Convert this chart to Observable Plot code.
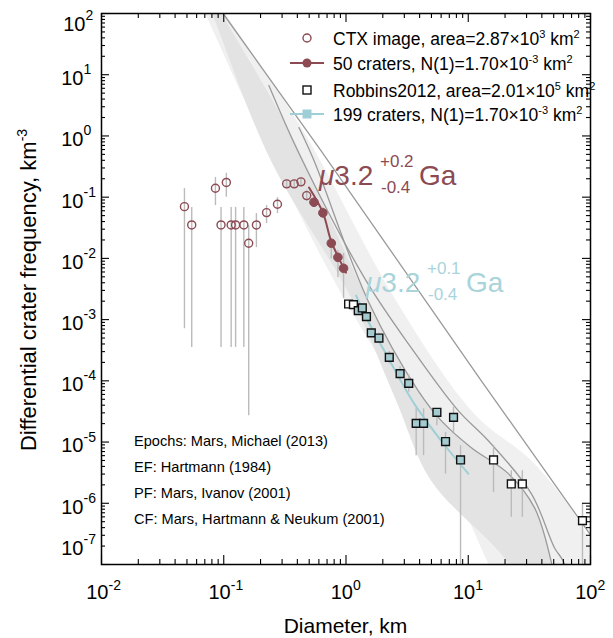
<!DOCTYPE html>
<html><head><meta charset="utf-8">
<script src="https://cdn.jsdelivr.net/npm/d3@7"></script>
<script src="https://cdn.jsdelivr.net/npm/@observablehq/plot@0.6"></script>
<style>
body{margin:0;background:#fff;}
#wrap{position:relative;width:613px;height:638px;overflow:hidden;background:#fff}
#wrap svg{position:absolute;left:0;top:0}
</style></head><body><div id="wrap"></div>
<script>
// ---------------- data ----------------
// CTX image crater counts (open circles)
const ctxD  = [0.0477, 0.0547, 0.0855, 0.095, 0.105, 0.115, 0.125, 0.146, 0.160, 0.185, 0.224, 0.275, 0.327, 0.377, 0.428, 0.477];
const ctxN  = [0.070, 0.0352, 0.140, 0.0352, 0.174, 0.0352, 0.0352, 0.0352, 0.0177, 0.0352, 0.056, 0.0766, 0.165, 0.165, 0.178, 0.106];
const ctxLo = [7.1e-4, 3.5e-4, 0.073, 3.5e-4, 0.100, 3.5e-4, 3.5e-4, 3.5e-4, 2.7e-5, 0.015, 0.037, 0.054, 0.14, 0.14, 0.15, 0.085];
const ctxHi = [0.138, 0.068, 0.21, 0.068, 0.245, 0.068, 0.068, 0.068, 0.034, 0.054, 0.073, 0.098, 0.19, 0.19, 0.21, 0.13];
// CTX points used in the fit (filled circles, 50 craters)
const fitD  = [0.547, 0.647, 0.758, 0.859, 0.955];
const fitN  = [0.0826, 0.0554, 0.0177, 0.0104, 0.0069];
const fitLo = [0.068, 0.045, 0.0099, 0.00485, 0.0022];
const fitHi = [0.098, 0.067, 0.021, 0.0134, 0.012];
// Robbins2012 (squares; filled = used in fit, 199 craters)
const robD  = [1.05, 1.15, 1.26, 1.36, 1.47, 1.61, 1.86, 2.26, 2.77, 3.26, 3.75, 4.31, 5.54, 6.52, 7.58, 8.65, 16.1, 22.5, 27.7, 86];
const robN  = [1.8e-3, 1.76e-3, 1.4e-3, 1.55e-3, 1.12e-3, 6.07e-4, 5.0e-4, 2.42e-4, 1.31e-4, 9.1e-5, 2.02e-5, 2.02e-5, 3.06e-5, 1.02e-5, 2.53e-5, 5.1e-6, 5.1e-6, 2.07e-6, 2.07e-6, 5.2e-7];
const robLo = [1.6e-3, 1.55e-3, 1.23e-3, 1.36e-3, 9.7e-4, 5.1e-4, 4.1e-4, 1.9e-4, 9.8e-5, 6.5e-5, 6.0e-6, 6.0e-6, 1.85e-5, 3.0e-6, 1.44e-5, 1e-8, 1.5e-6, 5.9e-7, 5.9e-7, 1e-8];
const robHi = [2.0e-3, 1.97e-3, 1.58e-3, 1.75e-3, 1.29e-3, 7.2e-4, 6.0e-4, 3.0e-4, 1.7e-4, 1.25e-4, 3.5e-5, 3.5e-5, 3.5e-5, 1.44e-5, 3.7e-5, 8.7e-6, 8.7e-6, 3.4e-6, 3.4e-6, 9.7e-7];
const robFit = [false, false, true, true, true, true, true, true, true, true, true, true, true, true, true, true, false, false, false, false];
// fitted isochrons (3.2 Ga)
const ctxLineD = [0.498, 0.647, 0.753, 0.877, 1.0];
const ctxLineN = [0.1435, 0.056, 0.0195, 0.0099, 0.00586];
const robLineD = [1.21, 1.51, 2.21, 3.61, 6.01, 10.0];
const robLineN = [2.47e-3, 9.6e-4, 2.39e-4, 4.24e-5, 1.05e-5, 3.05e-6];
// reference curves
const efD = [0.1, 0.624, 12.8, 98.2, 114];            // equilibrium function
const efN = [96.3, 0.577, 1.0e-4, 3.2e-7, 2.1e-7];
const l2D = [0.234, 0.428, 1.459, 3.41, 8.28, 14.6, 32.8, 50.7, 61.2, 64.7];
const l2N = [6.66, 0.444, 4.34e-3, 3.49e-4, 3.26e-5, 1.05e-5, 1.44e-6, 1.88e-7, 1.03e-7, 2.6e-8];
const l3D = [0.412, 0.547, 1.514, 3.89, 6.01, 10.6, 21.3, 34.8, 47.9, 53.7];
const l3N = [1.37, 0.396, 2.04e-3, 6.92e-5, 2.24e-5, 8.1e-6, 3.05e-6, 8.5e-7, 1.07e-7, 2.6e-8];
// epoch bands (edges)
const lightLeftD  = [0.0547, 0.0711, 0.1936, 0.798, 1.936, 4.97, 14.6, 20.1];
const lightLeftN  = [298, 96.3, 1.224, 4.34e-3, 2.14e-4, 1.05e-5, 1.03e-7, 2.6e-8];
const lightRightD = [0.0711, 0.1038, 0.445, 2.57, 11.2, 34.8, 89.3, 149];
const lightRightN = [298, 96.3, 1.224, 2.04e-3, 2.91e-5, 4.44e-6, 3.57e-7, 2.6e-8];
const darkLeftD   = [0.0647, 0.0828, 0.2427, 1.099, 2.57, 4.97, 21.3, 27.2];
const darkLeftN   = [298, 86, 0.396, 2.29e-3, 4.75e-5, 2.34e-6, 1.03e-7, 2.6e-8];
const darkRightD  = [0.0698, 0.1, 0.341, 1.514, 3.89, 6.01, 10.6, 21.3, 34.8, 47.9, 53.7];
const darkRightN  = [298, 86, 1.224, 2.04e-3, 6.92e-5, 2.24e-5, 8.1e-6, 3.05e-6, 8.5e-7, 1.07e-7, 2.6e-8];
// axes
const xTicks = [0.01, 0.1, 1, 10, 100];
const yTicks = [1e-7, 1e-6, 1e-5, 1e-4, 1e-3, 1e-2, 1e-1, 1, 10, 100];
const xLabel = "Diameter, km";
const yLabel = "Differential crater frequency, km";
const yLabelExp = "-3";
const legendText = [
  [["CTX image, area=2.87×10"], ["3", 1], [" km"], ["2", 1]],
  [["50 craters, N(1)=1.70×10"], ["-3", 1], [" km"], ["2", 1]],
  [["Robbins2012, area=2.01×10"], ["5", 1], [" km"], ["2", 1]],
  [["199 craters, N(1)=1.70×10"], ["-3", 1], [" km"], ["2", 1]]
];
const notes = ["Epochs: Mars, Michael (2013)", "EF: Hartmann (1984)", "PF: Mars, Ivanov (2001)", "CF: Mars, Hartmann & Neukum (2001)"];
const ages = [{age: "3.2", up: "+0.2", dn: "-0.4"}, {age: "3.2", up: "+0.1", dn: "-0.4"}];

// ---------------- build ----------------
const RED = "#8c4a53", CYAN = "#9fcfd6", CYANFILL = "#a3cbd0", CYANTXT = "#a9d4da";
const FONT = "'Liberation Sans', Arial, Helvetica, sans-serif";
const W = 613, H = 638, ML = 101, MR = 23, MT = 13, MB = 74;
const FW = W - ML - MR, FH = H - MT - MB;

const zip = (D, N, Lo, Hi) => D.map((d, i) => ({D: d, N: N[i], lo: Lo ? Lo[i] : undefined, hi: Hi ? Hi[i] : undefined}));
const ctx = zip(ctxD, ctxN, ctxLo, ctxHi);
const fit = zip(fitD, fitN, fitLo, fitHi);
const rob = zip(robD, robN, robLo, robHi).map((d, i) => ({...d, fit: robFit[i]}));
const ctxLine = zip(ctxLineD, ctxLineN);
const robLine = zip(robLineD, robLineN);
const ef = zip(efD, efN);
const l2 = zip(l2D, l2N);
const l3 = zip(l3D, l3N);
const lightPoly = [...zip(lightLeftD, lightLeftN), ...zip(lightRightD, lightRightN).reverse()];
const darkPoly = [...zip(darkLeftD, darkLeftN), ...zip(darkRightD, darkRightN).reverse()];

const xMinor = xTicks.slice(0, -1).flatMap(d => d3.range(2, 10).map(k => d * k));
const yMinor = yTicks.slice(0, -1).flatMap(d => d3.range(2, 10).map(k => d * k));
const expOf = d => String(Math.round(Math.log10(d)));
const yMid = yTicks.slice(1, -1), yTop = [yTicks[yTicks.length - 1]], yBot = [yTicks[0]];

const tickStyle = {stroke: "#000", strokeWidth: 1.1};
const chart = Plot.plot({
  width: W, height: H, marginLeft: ML, marginRight: MR, marginTop: MT, marginBottom: MB,
  x: {type: "log", domain: [0.01, 100], axis: null},
  y: {type: "log", domain: [1e-7, 100], axis: null},
  style: {fontFamily: FONT, background: "transparent", color: "#000"},
  marks: [
    Plot.line(lightPoly, {x: "D", y: "N", fill: "#f0f0f0", stroke: "none", curve: "catmull-rom", clip: true}),
    Plot.line(darkPoly, {x: "D", y: "N", fill: "#e3e3e3", stroke: "none", curve: "catmull-rom", clip: true}),
    Plot.line(ef, {x: "D", y: "N", stroke: "#9a9a9a", strokeWidth: 1.3, clip: true}),
    Plot.line(l2, {x: "D", y: "N", stroke: "#9a9a9a", strokeWidth: 1.3, curve: "catmull-rom", clip: true}),
    Plot.line(l3, {x: "D", y: "N", stroke: "#9a9a9a", strokeWidth: 1.3, curve: "catmull-rom", clip: true}),
    Plot.ruleX(ctx, {x: "D", y1: "lo", y2: "hi", stroke: "#bbbbbb", strokeWidth: 1.4, clip: true}),
    Plot.ruleX(fit, {x: "D", y1: "lo", y2: "hi", stroke: "#bbbbbb", strokeWidth: 1.4, clip: true}),
    Plot.ruleX(rob, {x: "D", y1: "lo", y2: "hi", stroke: "#bbbbbb", strokeWidth: 1.4, clip: true}),
    Plot.line(ctxLine, {x: "D", y: "N", stroke: RED, strokeWidth: 2, curve: "catmull-rom"}),
    Plot.line(robLine, {x: "D", y: "N", stroke: CYAN, strokeWidth: 2, curve: "catmull-rom"}),
    Plot.dot(ctx, {x: "D", y: "N", r: 4, stroke: RED, strokeWidth: 1.4, fill: "none"}),
    Plot.dot(fit, {x: "D", y: "N", r: 4.3, stroke: RED, strokeWidth: 1, fill: RED}),
    Plot.dot(rob.filter(d => !d.fit), {x: "D", y: "N", symbol: "square", r: 4.4, stroke: "#111", strokeWidth: 1.4, fill: "#fff", clip: true}),
    Plot.dot(rob.filter(d => d.fit), {x: "D", y: "N", symbol: "square", r: 4.4, stroke: "#111", strokeWidth: 1.4, fill: CYANFILL}),
    // ticks (inward, on all four sides)
    Plot.ruleX(xTicks, {x: d => d, insetTop: FH - 9, ...tickStyle}),
    Plot.ruleX(xTicks, {x: d => d, insetBottom: FH - 9, ...tickStyle}),
    Plot.ruleX(xMinor, {x: d => d, insetTop: FH - 5, ...tickStyle}),
    Plot.ruleX(xMinor, {x: d => d, insetBottom: FH - 5, ...tickStyle}),
    Plot.ruleY(yTicks, {y: d => d, insetRight: FW - 8, ...tickStyle}),
    Plot.ruleY(yTicks, {y: d => d, insetLeft: FW - 8, ...tickStyle}),
    Plot.ruleY(yMinor, {y: d => d, insetRight: FW - 4, ...tickStyle}),
    Plot.ruleY(yMinor, {y: d => d, insetLeft: FW - 4, ...tickStyle}),
    Plot.frame({stroke: "#000", strokeWidth: 1.5}),
    // tick labels
    Plot.text(xTicks, {x: d => d, frameAnchor: "bottom", text: () => "10", textAnchor: "end", dx: 7, dy: 34, fontSize: 20, fill: "#000"}),
    Plot.text(xTicks, {x: d => d, frameAnchor: "bottom", text: expOf, textAnchor: "start", dx: 7, dy: 25, fontSize: 14, fill: "#000"}),
    Plot.text(yMid, {y: d => d, frameAnchor: "left", text: () => "10", textAnchor: "end", dx: -18, dy: 4, fontSize: 20, fill: "#000"}),
    Plot.text(yMid, {y: d => d, frameAnchor: "left", text: expOf, textAnchor: "start", dx: -18, dy: -5, fontSize: 14, fill: "#000"}),
    Plot.text(yTop, {y: d => d, frameAnchor: "left", text: () => "10", textAnchor: "end", dx: -16, dy: 11, fontSize: 20, fill: "#000"}),
    Plot.text(yTop, {y: d => d, frameAnchor: "left", text: expOf, textAnchor: "start", dx: -16, dy: 2, fontSize: 14, fill: "#000"}),
    Plot.text(yBot, {y: d => d, frameAnchor: "left", text: () => "10", textAnchor: "end", dx: -18, dy: -16, fontSize: 20, fill: "#000"}),
    Plot.text(yBot, {y: d => d, frameAnchor: "left", text: expOf, textAnchor: "start", dx: -18, dy: -25, fontSize: 14, fill: "#000"})
  ]
});
const wrap = document.getElementById("wrap");
wrap.appendChild(chart);

// ---------------- overlay text (legend, labels, notes) ----------------
const ov = d3.select(wrap).append("svg").attr("width", W).attr("height", H)
  .style("font-family", FONT).style("pointer-events", "none");

function rich(x, y, segs, size, color, supSize, shift) {
  const t = ov.append("text").attr("x", x).attr("y", y).attr("font-size", size).attr("fill", color);
  let up = false;
  segs.forEach(([s, sup]) => {
    const ts = t.append("tspan").text(s);
    if (sup && !up) { ts.attr("dy", -shift).attr("font-size", supSize); up = true; }
    else if (sup) { ts.attr("font-size", supSize); }
    else if (!sup && up) { ts.attr("dy", shift); up = false; }
  });
  return t;
}

// legend
const legY = [38, 63, 90, 114];
const legSymX = 307;
legendText.forEach((segs, i) => rich(333, legY[i] + 6.5, segs, 17.5, "#000", 11, 7));
ov.append("circle").attr("cx", legSymX).attr("cy", legY[0]).attr("r", 4).attr("fill", "none").attr("stroke", RED).attr("stroke-width", 1.4);
ov.append("line").attr("x1", 290).attr("x2", 324).attr("y1", legY[1]).attr("y2", legY[1]).attr("stroke", RED).attr("stroke-width", 2);
ov.append("circle").attr("cx", legSymX).attr("cy", legY[1]).attr("r", 4.5).attr("fill", RED);
ov.append("rect").attr("x", legSymX - 4).attr("y", legY[2] - 4).attr("width", 8).attr("height", 8).attr("fill", "#fff").attr("stroke", "#111").attr("stroke-width", 1.4);
ov.append("line").attr("x1", 290).attr("x2", 324).attr("y1", legY[3]).attr("y2", legY[3]).attr("stroke", CYAN).attr("stroke-width", 2);
ov.append("rect").attr("x", legSymX - 4.5).attr("y", legY[3] - 4.5).attr("width", 9).attr("height", 9).attr("fill", CYAN);

// model ages
function age(a, x, y, color) {
  const t = ov.append("text").attr("x", x).attr("y", y).attr("font-size", 28).attr("fill", color);
  t.append("tspan").attr("font-style", "italic").text("μ");
  t.append("tspan").text(a.age);
  ov.append("text").attr("x", x + 61).attr("y", y - 18).attr("font-size", 17).attr("fill", color).text(a.up);
  ov.append("text").attr("x", x + 62).attr("y", y + 8).attr("font-size", 17).attr("fill", color).text(a.dn);
  ov.append("text").attr("x", x + 100).attr("y", y).attr("font-size", 28).attr("fill", color).text("Ga");
}
age(ages[0], 319, 185, RED);
age(ages[1], 366, 292, CYANTXT);

// notes
const noteY = [446, 472, 498, 524];
notes.forEach((s, i) => ov.append("text").attr("x", 134).attr("y", noteY[i]).attr("font-size", 14.6).attr("fill", "#000").text(s));

// axis titles
ov.append("text").attr("x", ML + FW / 2).attr("y", 633).attr("text-anchor", "middle").attr("font-size", 21).attr("fill", "#000").text(xLabel);
const yl = ov.append("text").attr("transform", "translate(36,290) rotate(-90)").attr("text-anchor", "middle").attr("font-size", 22).attr("fill", "#000");
yl.append("tspan").text(yLabel);
yl.append("tspan").attr("dy", -9).attr("font-size", 14).text(yLabelExp);
</script></body></html>
